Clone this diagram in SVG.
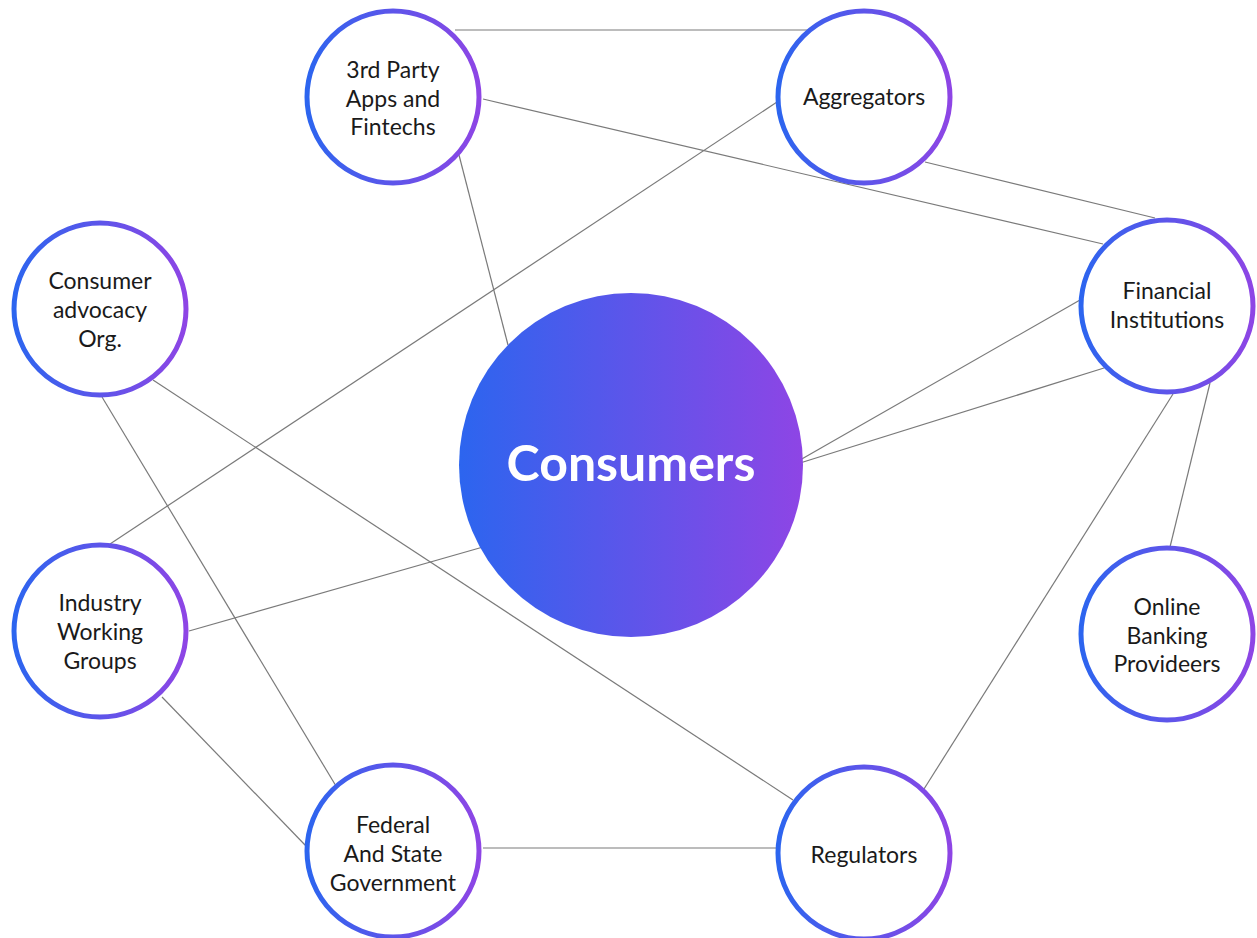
<svg xmlns="http://www.w3.org/2000/svg" width="1257" height="938" viewBox="0 0 1257 938">
<defs>
<linearGradient id="g" x1="0" y1="0" x2="1" y2="0">
<stop offset="0" stop-color="#2c65ef"/>
<stop offset="1" stop-color="#8e45e5"/>
</linearGradient>
<style>
.ring{fill:#fff;stroke:url(#g);stroke-width:5}
.lbl{font-family:Lato,"Open Sans",sans-serif;font-size:23px;fill:#1a1a1a;text-anchor:middle}
.edge{stroke:#7a7a7a;stroke-width:1.2;fill:none}
</style>
</defs>
<rect width="1257" height="938" fill="#fff"/>
<g id="connectors">
<line class="edge" x1="455" y1="30" x2="810" y2="30"/>
<line class="edge" x1="483" y1="99" x2="1103" y2="244"/>
<line class="edge" x1="459" y1="155" x2="508" y2="345"/>
<line class="edge" x1="777" y1="102" x2="110" y2="544"/>
<line class="edge" x1="925" y1="162" x2="1155" y2="218"/>
<line class="edge" x1="153" y1="380" x2="793" y2="800"/>
<line class="edge" x1="102" y1="397" x2="336" y2="786"/>
<line class="edge" x1="1080" y1="300" x2="800" y2="460"/>
<line class="edge" x1="1104" y1="368" x2="800" y2="463"/>
<line class="edge" x1="1173" y1="394" x2="924" y2="789"/>
<line class="edge" x1="1210" y1="383" x2="1170" y2="547"/>
<line class="edge" x1="189" y1="631" x2="483" y2="547"/>
<line class="edge" x1="162" y1="697" x2="306" y2="846"/>
<line class="edge" x1="483" y1="848" x2="777" y2="848"/>
</g>
<g id="consumers">
<circle cx="631" cy="465" r="172" fill="url(#g)"/>
<text x="631" y="481" font-family="Lato,'Open Sans',sans-serif" font-weight="bold" font-size="50" fill="#fff" text-anchor="middle">Consumers</text>
</g>
<g id="third-party">
<circle class="ring" cx="393" cy="97" r="86"/>
<text class="lbl" x="393" y="78">3rd Party</text>
<text class="lbl" x="393" y="107">Apps and</text>
<text class="lbl" x="393" y="135">Fintechs</text>
</g>
<g id="aggregators">
<circle class="ring" cx="864" cy="97" r="86"/>
<text class="lbl" x="864" y="105">Aggregators</text>
</g>
<g id="consumer-advocacy">
<circle class="ring" cx="100" cy="309" r="86"/>
<text class="lbl" x="100" y="289">Consumer</text>
<text class="lbl" x="100" y="318">advocacy</text>
<text class="lbl" x="100" y="347">Org.</text>
</g>
<g id="financial">
<circle class="ring" cx="1167" cy="306" r="86"/>
<text class="lbl" x="1167" y="299">Financial</text>
<text class="lbl" x="1167" y="328">Institutions</text>
</g>
<g id="industry">
<circle class="ring" cx="100" cy="631" r="86"/>
<text class="lbl" x="100" y="611">Industry</text>
<text class="lbl" x="100" y="640">Working</text>
<text class="lbl" x="100" y="669">Groups</text>
</g>
<g id="online-banking">
<circle class="ring" cx="1167" cy="634" r="86"/>
<text class="lbl" x="1167" y="615">Online</text>
<text class="lbl" x="1167" y="644">Banking</text>
<text class="lbl" x="1167" y="672">Provideers</text>
</g>
<g id="federal">
<circle class="ring" cx="393" cy="851" r="86"/>
<text class="lbl" x="393" y="833">Federal</text>
<text class="lbl" x="393" y="862">And State</text>
<text class="lbl" x="393" y="891">Government</text>
</g>
<g id="regulators">
<circle class="ring" cx="864" cy="853" r="86"/>
<text class="lbl" x="864" y="863">Regulators</text>
</g>
</svg>
